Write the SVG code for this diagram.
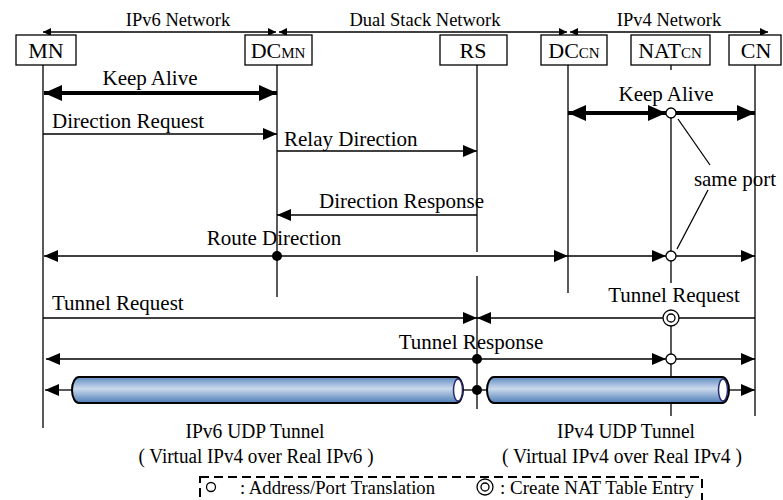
<svg xmlns="http://www.w3.org/2000/svg" width="783" height="500" viewBox="0 0 783 500">
<style>
text{font-family:"Liberation Serif","Times New Roman",serif;fill:#000}
.hdr{font-size:18.5px;text-anchor:middle}
.nd{font-size:22px;text-anchor:middle}
.sub{font-size:15px}
.lbl{font-size:21px}
.box{fill:#fff;stroke:#000;stroke-width:1.3}
.life{stroke:#000;stroke-width:1.3;fill:none}
.ln{stroke:#000;stroke-width:1.3;fill:none}
.thick{stroke:#000;stroke-width:4;fill:none}
.dot{fill:#000}
.oc{fill:#fff;stroke:#000;stroke-width:1.3}
.tube{fill:url(#tg);stroke:#000;stroke-width:2}
.cap{fill:#fff;stroke:#2b2b70;stroke-width:1.5}
.leg{font-size:19px}
</style>
<defs>
<marker id="ah" markerUnits="userSpaceOnUse" markerWidth="14" markerHeight="12" refX="14" refY="6" orient="auto-start-reverse"><path d="M0,0 L14,6 L0,12 z" fill="#000"/></marker>
<marker id="ahs" markerUnits="userSpaceOnUse" markerWidth="8" markerHeight="8" refX="8" refY="4" orient="auto-start-reverse"><path d="M0,0 L8,4 L0,8 z" fill="#000"/></marker>
<marker id="ahb" markerUnits="userSpaceOnUse" markerWidth="18" markerHeight="16" refX="18" refY="8" orient="auto-start-reverse"><path d="M0,0 L18,8 L0,16 z" fill="#000"/></marker>
<linearGradient id="tg" x1="0" y1="0" x2="0" y2="1">
<stop offset="0" stop-color="#5f8bc0"/>
<stop offset="0.45" stop-color="#cbd9ec"/>
<stop offset="1" stop-color="#4c7db7"/>
</linearGradient>
</defs>

<g id="header">
<text class="hdr" x="178" y="26">IPv6 Network</text>
<text class="hdr" x="425" y="26">Dual Stack Network</text>
<text class="hdr" x="669" y="26">IPv4 Network</text>
<line class="ln" x1="43" y1="32" x2="276" y2="32" marker-start="url(#ahs)" marker-end="url(#ahs)"/>
<line class="ln" x1="279" y1="32" x2="567" y2="32" marker-start="url(#ahs)" marker-end="url(#ahs)"/>
<line class="ln" x1="570" y1="32" x2="768" y2="32" marker-start="url(#ahs)" marker-end="url(#ahs)"/>
</g>

<g id="node-MN">
<rect class="box" x="16" y="35" width="60" height="30"/>
<text class="nd" x="46" y="58">MN</text>
<line class="life" x1="43" y1="65" x2="43" y2="428"/>
</g>
<g id="node-DCMN">
<rect class="box" x="245" y="35" width="67" height="30"/>
<text class="nd" x="278" y="58">DC<tspan class="sub">MN</tspan></text>
<line class="life" x1="277" y1="65" x2="277" y2="297"/>
</g>
<g id="node-RS">
<rect class="box" x="440" y="35" width="67" height="30"/>
<text class="nd" x="473" y="58">RS</text>
<line class="life" x1="477" y1="65" x2="477" y2="252"/>
<line class="life" x1="477" y1="276" x2="477" y2="409"/>
</g>
<g id="node-DCCN">
<rect class="box" x="541" y="35" width="66" height="30"/>
<text class="nd" x="574" y="58">DC<tspan class="sub">CN</tspan></text>
<line class="life" x1="568" y1="65" x2="568" y2="293"/>
</g>
<g id="node-NATCN">
<rect class="box" x="631" y="35" width="79" height="30"/>
<text class="nd" x="670" y="58">NAT<tspan class="sub">CN</tspan></text>
<line class="life" x1="671" y1="65" x2="671" y2="70"/>
<line class="life" x1="671" y1="113" x2="671" y2="283"/>
<line class="life" x1="671" y1="318" x2="671" y2="416"/>
</g>
<g id="node-CN">
<rect class="box" x="729" y="35" width="52" height="30"/>
<text class="nd" x="756" y="58">CN</text>
<line class="life" x1="755" y1="65" x2="755" y2="416"/>
</g>

<g id="connectors">
<!-- Keep Alive left -->
<line class="thick" x1="44" y1="93" x2="277" y2="93" marker-start="url(#ahb)" marker-end="url(#ahb)"/>
<text class="lbl" x="150" y="85" text-anchor="middle">Keep Alive</text>
<!-- Keep Alive right -->
<line class="thick" x1="568" y1="113" x2="666" y2="113" marker-start="url(#ahb)" marker-end="url(#ahb)"/>
<line class="thick" x1="676" y1="113" x2="755" y2="113" marker-end="url(#ahb)"/>
<circle class="oc" cx="671" cy="113" r="5"/>
<text class="lbl" x="666" y="101" text-anchor="middle">Keep Alive</text>
<!-- Direction Request -->
<line class="ln" x1="43" y1="134" x2="277" y2="134" marker-end="url(#ah)"/>
<text class="lbl" x="52" y="128">Direction Request</text>
<!-- Relay Direction -->
<line class="ln" x1="277" y1="151" x2="477" y2="151" marker-end="url(#ah)"/>
<text class="lbl" x="284" y="146">Relay Direction</text>
<!-- Direction Response -->
<line class="ln" x1="477" y1="215" x2="277" y2="215" marker-end="url(#ah)"/>
<text class="lbl" x="319" y="208">Direction Response</text>
<!-- Route Direction -->
<line class="ln" x1="44" y1="256" x2="568" y2="256" marker-start="url(#ah)" marker-end="url(#ah)"/>
<line class="ln" x1="568" y1="256" x2="666" y2="256" marker-end="url(#ah)"/>
<line class="ln" x1="676" y1="256" x2="755" y2="256" marker-end="url(#ah)"/>
<circle class="dot" cx="277" cy="256" r="5"/>
<circle class="oc" cx="671" cy="256" r="5"/>
<text class="lbl" x="274" y="245" text-anchor="middle">Route Direction</text>
<!-- same port -->
<line class="ln" x1="678" y1="119" x2="710" y2="165"/>
<line class="ln" x1="708" y1="190" x2="677" y2="249"/>
<text class="lbl" x="735" y="186" text-anchor="middle">same port</text>
<!-- Tunnel Request -->
<line class="ln" x1="43" y1="318" x2="477" y2="318" marker-end="url(#ah)"/>
<line class="ln" x1="755" y1="318" x2="477" y2="318" marker-end="url(#ah)"/>
<circle class="oc" cx="671" cy="318" r="8"/>
<circle class="oc" cx="671" cy="318" r="4"/>
<text class="lbl" x="52" y="310">Tunnel Request</text>
<text class="lbl" x="674" y="302" text-anchor="middle">Tunnel Request</text>
<!-- Tunnel Response -->
<line class="ln" x1="46" y1="359" x2="666" y2="359" marker-start="url(#ah)" marker-end="url(#ah)"/>
<line class="ln" x1="676" y1="359" x2="755" y2="359" marker-end="url(#ah)"/>
<circle class="dot" cx="477" cy="359" r="5"/>
<circle class="oc" cx="671" cy="359" r="5"/>
<text class="lbl" x="471" y="349" text-anchor="middle">Tunnel Response</text>
<!-- Tunnels -->
<line class="ln" x1="72" y1="390" x2="45" y2="390" marker-end="url(#ah)"/>
<line class="ln" x1="463" y1="390" x2="487" y2="390"/>
<line class="ln" x1="729" y1="390" x2="755" y2="390" marker-end="url(#ah)"/>
<circle class="dot" cx="477" cy="390" r="5"/>
<rect class="tube" x="72" y="377" width="391" height="26" rx="7" ry="13"/>
<ellipse class="cap" cx="458" cy="390" rx="4.5" ry="11"/>
<rect class="tube" x="487" y="377" width="242" height="26" rx="7" ry="13"/>
<ellipse class="cap" cx="723" cy="390" rx="4.5" ry="11"/>
</g>

<g id="tunnel-labels">
<text x="255" y="438" font-size="20" text-anchor="middle" textLength="139" lengthAdjust="spacingAndGlyphs">IPv6 UDP Tunnel</text>
<text x="256" y="463" font-size="20" text-anchor="middle" textLength="235" lengthAdjust="spacingAndGlyphs">( Virtual IPv4 over Real IPv6 )</text>
<text x="626" y="438" font-size="20" text-anchor="middle" textLength="138" lengthAdjust="spacingAndGlyphs">IPv4 UDP Tunnel</text>
<text x="622" y="463" font-size="20" text-anchor="middle" textLength="240" lengthAdjust="spacingAndGlyphs">( Virtual IPv4 over Real IPv4 )</text>
</g>

<g id="legend">
<rect x="200" y="477" width="502" height="40" fill="none" stroke="#000" stroke-width="2" stroke-dasharray="9 5"/>
<circle class="oc" cx="211" cy="487" r="4.5"/>
<text class="leg" x="240" y="494" textLength="195" lengthAdjust="spacingAndGlyphs">: Address/Port Translation</text>
<circle class="oc" cx="485" cy="487" r="8"/>
<circle class="oc" cx="485" cy="487" r="4"/>
<text class="leg" x="500" y="494" textLength="194" lengthAdjust="spacingAndGlyphs">: Create NAT Table Entry</text>
</g>
</svg>
